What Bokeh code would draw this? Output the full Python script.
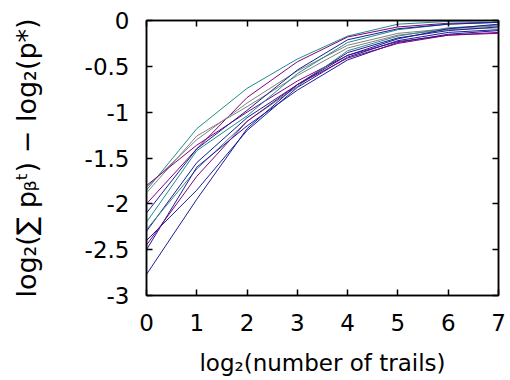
from bokeh.plotting import figure
from bokeh.models import LinearAxis, FixedTicker, Range1d
from bokeh.embed import file_html
from bokeh.resources import INLINE

# log2(number of trails)
x_vals = [0, 1, 2, 3, 4, 5, 6, 7]

# one run per list: log2(sum p^t_beta) - log2(p_*)
run_01 = [-1.85, -1.18, -0.74, -0.42, -0.17, -0.04, -0.01, 0.00]
run_02 = [-2.00, -1.40, -0.84, -0.45, -0.18, -0.07, -0.03, -0.02]
run_03 = [-1.88, -1.26, -0.94, -0.60, -0.30, -0.16, -0.10, -0.08]
run_04 = [-1.82, -1.30, -0.90, -0.55, -0.27, -0.14, -0.09, -0.06]
run_05 = [-1.80, -1.36, -1.00, -0.66, -0.38, -0.23, -0.16, -0.13]
run_06 = [-2.20, -1.42, -1.04, -0.58, -0.24, -0.10, -0.04, -0.02]
run_07 = [-2.10, -1.40, -0.98, -0.54, -0.21, -0.09, -0.04, -0.02]
run_08 = [-2.30, -1.55, -1.06, -0.70, -0.35, -0.19, -0.11, -0.07]
run_09 = [-2.28, -1.62, -1.10, -0.72, -0.33, -0.17, -0.08, -0.05]
run_10 = [-2.40, -1.85, -1.20, -0.73, -0.40, -0.22, -0.13, -0.10]
run_11 = [-2.50, -1.60, -1.15, -0.76, -0.43, -0.24, -0.15, -0.11]
run_12 = [-2.77, -1.95, -1.18, -0.70, -0.38, -0.20, -0.09, -0.04]
run_13 = [-2.45, -1.70, -1.10, -0.70, -0.41, -0.25, -0.16, -0.14]

runs = [run_01, run_02, run_03, run_04, run_05, run_06, run_07,
        run_08, run_09, run_10, run_11, run_12, run_13]
run_colors = ["#1f8c8c", "#800080", "#808080", "#808080", "#800080", "#1f8c8c",
              "#1c1c96", "#1c1c96", "#3a8a8a", "#1c1c96", "#1c1c96", "#1c1c96",
              "#800080"]

x_ticks = [0, 1, 2, 3, 4, 5, 6, 7]
x_tick_labels = ["0", "1", "2", "3", "4", "5", "6", "7"]
y_ticks = [0, -0.5, -1, -1.5, -2, -2.5, -3]
y_tick_labels = ["0", "-0.5", "-1", "-1.5", "-2", "-2.5", "-3"]

x_title = "log\u2082(number of trails)"
y_title = "log\u2082(\u2211 p\u1d66\u1d57) \u2212 log\u2082(p*)"

FONT = "DejaVu Sans"

p = figure(width=510, height=380, output_backend="svg", toolbar_location=None,
           x_range=Range1d(0, 7), y_range=Range1d(-3, 0),
           min_border_left=146, min_border_right=12, min_border_top=20,
           min_border_bottom=85)
p.xgrid.visible = False
p.ygrid.visible = False
p.outline_line_color = "black"
p.outline_line_width = 1.5
p.background_fill_color = "white"
p.border_fill_color = "white"

for ys, c in zip(runs, run_colors):
    p.line(x_vals, ys, line_color=c, line_width=1)

def style(ax, ticks, labels):
    ax.ticker = FixedTicker(ticks=ticks)
    ax.major_label_overrides = {t: l for t, l in zip(ticks, labels)}
    ax.major_tick_in = 6
    ax.major_tick_out = 0
    ax.minor_tick_line_color = None
    ax.axis_line_color = "black"
    ax.axis_line_width = 1.5
    ax.major_tick_line_color = "black"
    ax.major_tick_line_width = 1.5
    ax.major_label_text_font = FONT
    ax.major_label_text_font_size = "23px"
    ax.major_label_text_color = "black"
    ax.axis_label_text_font = FONT
    ax.axis_label_text_font_size = "23px"
    ax.axis_label_text_font_style = "normal"
    ax.axis_label_text_color = "black"

xa = p.xaxis[0]
style(xa, x_ticks, x_tick_labels)
xa.major_label_standoff = 18
xa.axis_label = x_title
xa.axis_label_standoff = 16

ya = p.yaxis[0]
style(ya, y_ticks, y_tick_labels)
ya.major_label_standoff = 17
ya.axis_label = y_title
ya.axis_label_text_font_size = "27px"
ya.axis_label_standoff = 40

top = LinearAxis()
style(top, x_ticks, x_tick_labels)
top.major_label_text_color = None
top.major_label_text_font_size = "0px"
top.major_label_standoff = 0
p.add_layout(top, "above")

right = LinearAxis()
style(right, y_ticks, y_tick_labels)
right.major_label_text_color = None
right.major_label_text_font_size = "0px"
right.major_label_standoff = 0
p.add_layout(right, "right")

open("out.html", "w").write(file_html(p, INLINE))
